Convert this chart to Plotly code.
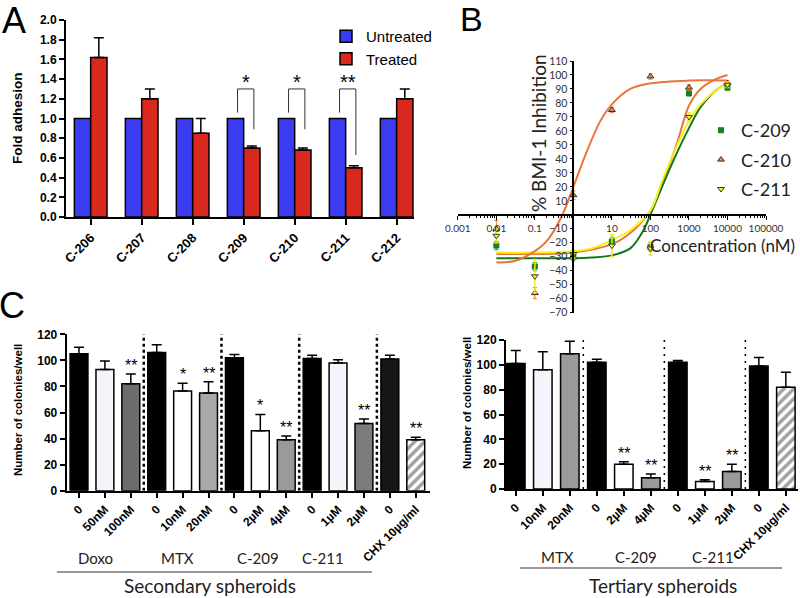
import plotly.graph_objects as go

W, H = 800, 598
def fx(px): return px / W
def fy(py): return 1 - py / H

ARIAL = "Arial, Liberation Sans, sans-serif"
CALI = "Lato, Open Sans, sans-serif"

# ---------------- Panel A data ----------------
a_categories = ["C-206", "C-207", "C-208", "C-209", "C-210", "C-211", "C-212"]
a_untreated = [1.0, 1.0, 1.0, 1.0, 1.0, 1.0, 1.0]
a_treated = [1.62, 1.20, 0.85, 0.70, 0.68, 0.50, 1.20]
a_treated_err = [0.20, 0.10, 0.15, 0.02, 0.02, 0.02, 0.10]
a_sig_labels = ["", "", "", "*", "*", "**", ""]
a_sig_right_bottom = [None, None, None, 0.89, 0.89, 0.63, None]

# ---------------- Panel B data ----------------
b_conc = [0.01, 0.1, 1, 10, 100, 1000, 10000]
b_c209 = [-22, -37, -30, -19, -23, 87, 91]
b_c210 = [-10, -56, 14, 75, 99, 91, 94]
b_c211 = [-15, -44, -28, -22, -24, 70, 93]
b_c209_err = [3, 3, 3, 3, 3, 2, 2]
b_c210_err = [6, 4, 3, 2, 2, 2, 2]
b_c211_err = [5, 12, 3, 8, 5, 3, 2]

fit_c210_x = [0.01, 0.03, 0.1, 0.2, 0.5, 1, 2, 5, 10, 30, 100, 1000, 10000]
fit_c210_y = [-34, -33, -26, -19, -1, 20, 42, 67, 79, 90, 94, 96, 96]
fit_c211_x = [0.01, 0.1, 1, 3, 10, 30, 100, 200, 500, 1000, 2000, 5000, 10000]
fit_c211_y = [-27, -27, -26, -24, -18, -11, 3, 24, 50, 67, 79, 89, 94]
fit_c209_x = [0.01, 0.1, 1, 3, 10, 30, 60, 100, 200, 500, 1000, 2000, 5000, 10000]
fit_c209_y = [-31, -31, -31, -30.5, -29, -24, -13, 0, 20, 45, 62, 77, 89, 94]
fit_alt_x = [0.01, 0.1, 1, 10, 30, 100, 200, 500, 1000, 2000, 5000, 10000]
fit_alt_y = [-28, -28, -27, -21, -13, 3, 22, 52, 78, 90, 97, 100]

b_yticks = [-70, -60, -50, -40, -30, -20, -10, 10, 20, 30, 40, 50, 60, 70, 80, 90, 100, 110]
b_xticks = [0.001, 0.01, 0.1, 10, 100, 1000, 10000, 100000]
b_xticklabels = ["0.001", "0.01", "0.1", "10", "100", "1000", "10000", "100000"]

# ---------------- Panel C (secondary) data ----------------
c2_labels = ["0", "50nM", "100nM", "0", "10nM", "20nM", "0", "2µM", "4µM",
             "0", "1µM", "2µM", "0", "CHX 10µg/ml"]
c2_values = [105, 93, 82, 106, 76.5, 75, 102, 46, 39, 101.5, 98, 51.5, 101, 39]
c2_err = [5, 6.5, 7.5, 6, 6, 8.5, 2.5, 12.5, 3, 2.5, 2.5, 3.5, 3, 2]
c2_sig = ["", "", "**", "", "*", "**", "", "*", "**", "", "", "**", "", "**"]
c2_colors = ["#000000", "#f4f4fb", "#6c6c6c", "#000000", "#ffffff", "#a9a9a9",
             "#000000", "#ffffff", "#9a9a9a", "#000000", "#f4f4fb", "#7c7c7c",
             "#161616", "#ffffff"]
c2_patterns = ["", "", "", "", "", "", "", "", "", "", "", "", "", "/"]
c2_groups = ["Doxo", "MTX", "C-209", "C-211"]

# ---------------- Panel C (tertiary) data ----------------
c3_labels = ["0", "10nM", "20nM", "0", "2µM", "4µM", "0", "1µM", "2µM", "0", "CHX 10µg/ml"]
c3_values = [101, 96, 109, 102, 20, 9, 102, 6, 14, 99, 82]
c3_err = [10.5, 14.5, 10, 2.5, 2, 3, 1.5, 1.5, 6, 7, 12]
c3_sig = ["", "", "", "", "**", "**", "", "**", "**", "", ""]
c3_colors = ["#000000", "#f4f4fb", "#9a9a9a", "#000000", "#ffffff", "#9a9a9a",
             "#000000", "#ffffff", "#9a9a9a", "#000000", "#ffffff"]
c3_patterns = ["", "", "", "", "", "", "", "", "", "", "/"]
c3_groups = ["MTX", "C-209", "C-211"]

fig = go.Figure()

# ---- Panel A ----
ax = list(range(len(a_categories)))
fig.add_trace(go.Bar(x=ax, y=a_untreated, name="Untreated", marker=dict(color="#3b3bf2", line=dict(color="black", width=1.5)),
                     xaxis="x", yaxis="y", legend="legend", offsetgroup="u"))
fig.add_trace(go.Bar(x=ax, y=a_treated, name="Treated", marker=dict(color="#d9281e", line=dict(color="black", width=1.5)),
                     error_y=dict(type="data", array=a_treated_err, arrayminus=[0]*len(a_treated_err), symmetric=False,
                                  color="black", thickness=1.5, width=5),
                     xaxis="x", yaxis="y", legend="legend", offsetgroup="t"))

shapes = []
annotations = []
for i, lab in enumerate(a_sig_labels):
    if not lab:
        continue
    xl, xr = i - 0.12, i + 0.20
    shapes.append(dict(type="path", xref="x", yref="y",
                       path=f"M {xl} 1.06 L {xl} 1.30 L {xr} 1.30 L {xr} {a_sig_right_bottom[i]}",
                       line=dict(color="#333", width=1)))
    annotations.append(dict(x=(xl + xr) / 2, y=1.30, xref="x", yref="y", text=lab, showarrow=False,
                            yanchor="bottom", font=dict(family=ARIAL, size=20, color="black"), yshift=-6))

# ---- Panel B ----
fig.add_trace(go.Scatter(x=fit_alt_x, y=fit_alt_y, mode="lines", line=dict(color="#e8753a", width=2, shape="spline"),
                         showlegend=False, xaxis="x2", yaxis="y2", hoverinfo="skip"))
fig.add_trace(go.Scatter(x=fit_c209_x, y=fit_c209_y, mode="lines", line=dict(color="#17761a", width=2, shape="spline"),
                         showlegend=False, xaxis="x2", yaxis="y2", hoverinfo="skip"))
fig.add_trace(go.Scatter(x=fit_c211_x, y=fit_c211_y, mode="lines", line=dict(color="#f2f21a", width=2, shape="spline"),
                         showlegend=False, xaxis="x2", yaxis="y2", hoverinfo="skip"))
fig.add_trace(go.Scatter(x=fit_c210_x, y=fit_c210_y, mode="lines", line=dict(color="#e8753a", width=2, shape="spline"),
                         showlegend=False, xaxis="x2", yaxis="y2", hoverinfo="skip"))

fig.add_trace(go.Scatter(x=b_conc, y=b_c209, mode="markers", name="C-209",
                         marker=dict(symbol="square", size=6, color="#17801f", line=dict(width=0)),
                         error_y=dict(type="data", array=b_c209_err, color="#2e8b2e", thickness=1, width=2),
                         xaxis="x2", yaxis="y2", legend="legend2", legendgroup="g1"))
fig.add_trace(go.Scatter(x=b_conc, y=b_c210, mode="markers", name="C-210",
                         marker=dict(symbol="triangle-up", size=6, color="#e0905a", line=dict(width=1, color="#3a2a1a")),
                         error_y=dict(type="data", array=b_c210_err, color="#e8753a", thickness=1, width=2),
                         xaxis="x2", yaxis="y2", legend="legend2", legendgroup="g2"))
fig.add_trace(go.Scatter(x=b_conc, y=b_c211, mode="markers", name="C-211",
                         marker=dict(symbol="triangle-down", size=6, color="#f4f020", line=dict(width=1, color="#3a3a1a")),
                         error_y=dict(type="data", array=b_c211_err, color="#f0ea20", thickness=1.5, width=2),
                         xaxis="x2", yaxis="y2", legend="legend2", legendgroup="g3"))

# ---- Panel C secondary ----
x2 = list(range(len(c2_labels)))
fig.add_trace(go.Bar(x=x2, y=c2_values, width=0.69, showlegend=False,
                     marker=dict(color=c2_colors, line=dict(color="black", width=1.5),
                                 pattern=dict(shape=c2_patterns, fgcolor="black", bgcolor="white", size=7, solidity=0.5)),
                     error_y=dict(type="data", array=c2_err, arrayminus=[0]*len(c2_err), symmetric=False,
                                  color="black", thickness=1.5, width=5),
                     xaxis="x3", yaxis="y3"))
for i, lab in enumerate(c2_sig):
    if lab:
        annotations.append(dict(x=i, y=c2_values[i] + c2_err[i], xref="x3", yref="y3", text=lab, showarrow=False,
                                yanchor="bottom", yshift=-2, font=dict(family=ARIAL, size=16, color="black")))
for b in [2.5, 5.5, 8.5, 11.5]:
    shapes.append(dict(type="line", xref="x3", yref="y3", x0=b, x1=b, y0=0, y1=120,
                       line=dict(color="black", width=2.5, dash="dot")))

# ---- Panel C tertiary ----
x3 = list(range(len(c3_labels)))
fig.add_trace(go.Bar(x=x3, y=c3_values, width=0.685, showlegend=False,
                     marker=dict(color=c3_colors, line=dict(color="black", width=1.5),
                                 pattern=dict(shape=c3_patterns, fgcolor="black", bgcolor="white", size=7, solidity=0.5)),
                     error_y=dict(type="data", array=c3_err, arrayminus=[0]*len(c3_err), symmetric=False,
                                  color="black", thickness=1.5, width=5),
                     xaxis="x4", yaxis="y4"))
for i, lab in enumerate(c3_sig):
    if lab:
        annotations.append(dict(x=i, y=c3_values[i] + c3_err[i], xref="x4", yref="y4", text=lab, showarrow=False,
                                yanchor="bottom", yshift=-2, font=dict(family=ARIAL, size=16, color="black")))
for b in [2.5, 5.5, 8.5]:
    shapes.append(dict(type="line", xref="x4", yref="y4", x0=b, x1=b, y0=0, y1=122,
                       line=dict(color="black", width=1.5, dash="2px,5px")))

# ---- Texts ----
def txt(x, y, text, size, family=ARIAL, bold=False, angle=0, color="black", xanchor="center"):
    annotations.append(dict(x=fx(x), y=fy(y), xref="paper", yref="paper", text=text, showarrow=False,
                            textangle=angle, xanchor=xanchor, yanchor="middle",
                            font=dict(family=family, size=size, color=color, weight="bold" if bold else "normal")))

txt(14, 21, "A", 36)
txt(471, 19, "B", 34)
txt(12, 305, "C", 36)
txt(18, 118, "Fold adhesion", 13.5, bold=True, angle=-90)
txt(539, 133, "% BMI-1 Inhibition", 19, family=CALI, angle=-90, color="#222")
txt(797, 245, "Concentration (nM)", 17, family=CALI, color="#222", xanchor="right")
txt(18, 410, "Number of colonies/well", 11.5, bold=True, angle=-90)
txt(467, 403, "Number of colonies/well", 11.5, bold=True, angle=-90)

sec_group_px = [95, 177, 258, 323]
for g, px in zip(c2_groups, sec_group_px):
    txt(px, 558, g, 15, family=CALI, color="#222")
ter_group_px = [557, 636, 713]
for g, px in zip(c3_groups, ter_group_px):
    txt(px, 557, g, 15, family=CALI, color="#222")
shapes.append(dict(type="line", xref="paper", yref="paper", x0=fx(57), x1=fx(372), y0=fy(572), y1=fy(572),
                   line=dict(color="#333", width=1)))
shapes.append(dict(type="line", xref="paper", yref="paper", x0=fx(520), x1=fx(782), y0=fy(568), y1=fy(568),
                   line=dict(color="#333", width=1)))
txt(210, 585, "Secondary spheroids", 19, family=CALI, color="#222")
txt(663, 585, "Tertiary spheroids", 19, family=CALI, color="#222")

bold_tick = dict(family=ARIAL, size=12, color="black", weight="bold")
axis_common = dict(showline=True, linecolor="black", linewidth=2, ticks="outside", tickcolor="black",
                   tickwidth=2, ticklen=5, showgrid=False, zeroline=False, tickfont=bold_tick, automargin=False)

# B geometry
b_y_top_px, b_y_bot_px = 61, 312.7
b_zero_px = b_y_top_px + 110 * (b_y_bot_px - b_y_top_px) / 180

fig.update_layout(
    width=W, height=H, margin=dict(l=0, r=0, t=0, b=0, autoexpand=False),
    paper_bgcolor="white", plot_bgcolor="rgba(0,0,0,0)",
    barmode="group", bargap=0.36, bargroupgap=0,
    xaxis=dict(domain=[fx(66), fx(414)], range=[-0.484, 6.34], tickvals=ax, ticktext=a_categories,
               tickangle=-45, anchor="y", **{**axis_common, "tickfont": dict(family=ARIAL, size=13, color="black", weight="bold"), "ticklen": 6}),
    yaxis=dict(domain=[fy(217), fy(20)], range=[0, 2.0], dtick=0.2, tickformat=".1f", anchor="x", **axis_common),
    xaxis2=dict(type="log", domain=[fx(457.8), fx(766)], range=[-3, 5], anchor="free", position=fy(b_zero_px),
                tickvals=b_xticks, ticktext=b_xticklabels, showline=True, linecolor="black", linewidth=1.5,
                ticks="outside", ticklen=4, tickcolor="black", showgrid=False, zeroline=False, automargin=False,
                tickfont=dict(family=CALI, size=10, color="#333"),
                minor=dict(ticks="outside", ticklen=2, tickcolor="black", dtick="D1", showgrid=False)),
    yaxis2=dict(domain=[fy(b_y_bot_px), fy(b_y_top_px)], range=[-70, 110], anchor="free", position=fx(573.3),
                tickvals=b_yticks, showline=True, linecolor="black", linewidth=1.5, ticks="outside", ticklen=3,
                tickcolor="black", showgrid=False, zeroline=False, automargin=False,
                tickfont=dict(family=CALI, size=10.5, color="#333")),
    xaxis3=dict(domain=[fx(66.7), fx(430)], range=[-0.475, 13.55], tickvals=x2, ticktext=c2_labels,
                tickangle=-45, anchor="y3", **axis_common),
    yaxis3=dict(domain=[fy(490.7), fy(334.3)], range=[0, 120], dtick=20, anchor="x3", **axis_common),
    xaxis4=dict(domain=[fx(506), fx(798)], range=[-0.363, 10.45], tickvals=x3, ticktext=c3_labels,
                tickangle=-45, anchor="y4", **axis_common),
    yaxis4=dict(domain=[fy(489), fy(340)], range=[0, 120], dtick=20, anchor="x4", **axis_common),
    legend=dict(x=fx(326), y=fy(20), xanchor="left", yanchor="top", font=dict(family=ARIAL, size=15, color="black"),
                bgcolor="rgba(0,0,0,0)", tracegroupgap=0, itemwidth=30),
    legend2=dict(x=fx(797), y=fy(112), xanchor="right", yanchor="top", font=dict(family=CALI, size=18, color="#222"),
                 bgcolor="rgba(0,0,0,0)", tracegroupgap=3, itemwidth=30),
    shapes=shapes, annotations=annotations,
)

fig.write_html("out.html", config={"displayModeBar": False},
               post_script="document.body.style.margin='0';document.body.style.padding='0';document.body.style.overflow='hidden';")
